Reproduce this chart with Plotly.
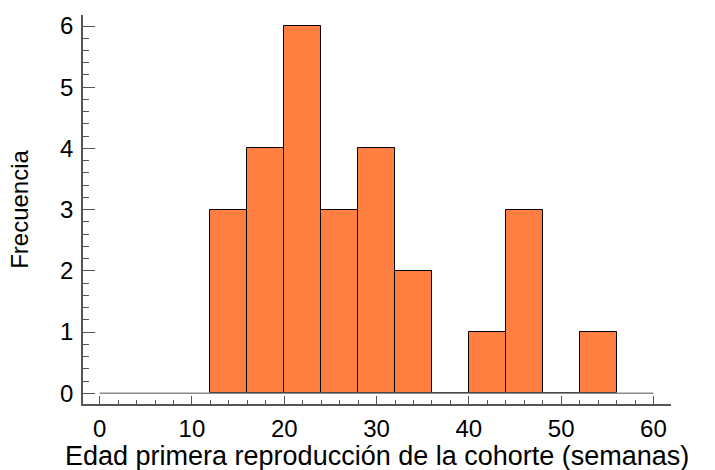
import plotly.graph_objects as go

# Histogram bins (weeks) and frequencies
bin_left = [12, 16, 20, 24, 28, 32, 36, 40, 44, 48, 52]
counts = [3, 4, 6, 3, 4, 2, 0, 1, 3, 0, 1]
bin_width = 4
baseline_x = [0, 60]
baseline_y = [0, 0]

x_ticks = [0, 10, 20, 30, 40, 50, 60]
y_ticks = [0, 1, 2, 3, 4, 5, 6]

x_title = "Edad primera reproducción de la cohorte (semanas)"
y_title = "Frecuencia"

centers = [b + bin_width / 2 for b in bin_left]

fig = go.Figure()
fig.add_trace(go.Scatter(x=baseline_x, y=baseline_y, mode="lines",
                         line=dict(color="#8c8c8c", width=1.5),
                         hoverinfo="skip", showlegend=False))
fig.add_trace(go.Bar(x=centers, y=counts, width=bin_width,
                     marker=dict(color="#FF7F40", line=dict(color="#000000", width=1)),
                     showlegend=False))

font_family = "Liberation Sans, Arial, sans-serif"
fig.update_layout(
    width=715, height=470,
    margin=dict(l=83, r=44, t=15, b=66),
    paper_bgcolor="white", plot_bgcolor="white",
    bargap=0,
    font=dict(family=font_family, size=24, color="#000000"),
)
fig.update_xaxes(
    range=[-1.8, 61.9], tickvals=x_ticks, ticktext=[str(v) for v in x_ticks],
    showline=True, linecolor="#555555", linewidth=1.5,
    ticks="inside", ticklen=8, tickwidth=1.2, tickcolor="#555555",
    minor=dict(dtick=2, ticks="inside", ticklen=4, tickwidth=1, tickcolor="#555555", showgrid=False),
    showgrid=False, zeroline=False, automargin=False,
    tickfont=dict(size=24), ticklabelstandoff=2,
)
fig.update_yaxes(
    range=[-0.175, 6.18], tickvals=y_ticks, ticktext=[str(v) for v in y_ticks],
    showline=True, linecolor="#555555", linewidth=1.5,
    ticks="inside", ticklen=12, tickwidth=1.2, tickcolor="#555555",
    minor=dict(dtick=0.2, ticks="inside", ticklen=6, tickwidth=1, tickcolor="#555555", showgrid=False),
    showgrid=False, zeroline=False, automargin=False,
    tickfont=dict(size=24), ticklabelstandoff=3,
    title=dict(text=y_title, font=dict(size=24), standoff=25),
)
fig.add_annotation(text=x_title, xref="paper", yref="paper", x=0.5, y=-0.134,
                   xanchor="center", yanchor="middle", showarrow=False,
                   font=dict(size=27, family=font_family, color="#000000"))

fig.write_html("out.html")
